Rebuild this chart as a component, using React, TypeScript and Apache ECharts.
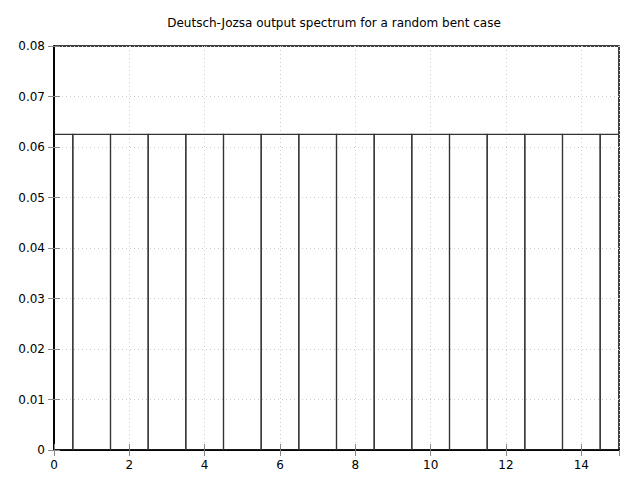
import React, { useEffect, useRef } from "react";
import * as echarts from "echarts";

const title = "Deutsch-Jozsa output spectrum for a random bent case";
const outcomes = [0, 1, 2, 3, 4, 5, 6, 7, 8, 9, 10, 11, 12, 13, 14, 15];
const probabilities = [
  0.0625, 0.0625, 0.0625, 0.0625, 0.0625, 0.0625, 0.0625, 0.0625,
  0.0625, 0.0625, 0.0625, 0.0625, 0.0625, 0.0625, 0.0625, 0.0625,
];
const barWidth = 1;

export default function App() {
  const ref = useRef<HTMLDivElement>(null);
  useEffect(() => {
    if (!ref.current) return;
    const chart = echarts.init(ref.current, null, { renderer: "svg" });
    const font = "DejaVu Sans";
    const tickStyle = { show: true, inside: true, length: 6, lineStyle: { color: "#888", width: 1 } };
    const splitStyle = { show: true, lineStyle: { color: "#ccc", type: [1, 3] as any, width: 1 } };
    chart.setOption({
      animation: false,
      backgroundColor: "#fff",
      textStyle: { fontFamily: font },
      graphic: [
        {
          type: "text",
          x: 334,
          y: 23,
          style: {
            text: title,
            fontFamily: font,
            fontSize: 12,
            fill: "#000",
            align: "center",
            verticalAlign: "middle",
          },
        },
      ],
      grid: {
        left: 54,
        right: 21,
        top: 46,
        bottom: 30,
        show: true,
        borderColor: "#000",
        borderWidth: 1.5,
        backgroundColor: "transparent",
      },
      xAxis: [
        {
          type: "value",
          min: 0,
          max: 15,
          interval: 2,
          axisLine: { show: true, lineStyle: { color: "#000", width: 1.5 } },
          axisTick: tickStyle,
          splitLine: splitStyle,
          axisLabel: { color: "#000", fontSize: 12, margin: 9, showMaxLabel: false, fontFamily: font },
        },
        {
          type: "value",
          position: "top",
          min: 0,
          max: 15,
          interval: 2,
          axisLine: { show: true, lineStyle: { color: "#000", width: 1.5 } },
          axisTick: tickStyle,
          splitLine: { show: false },
          axisLabel: { show: false },
        },
      ],
      yAxis: [
        {
          type: "value",
          min: 0,
          max: 0.08,
          interval: 0.01,
          axisLine: { show: true, lineStyle: { color: "#000", width: 1.5 } },
          axisTick: tickStyle,
          splitLine: splitStyle,
          axisLabel: {
            color: "#000",
            fontSize: 12,
            margin: 9,
            fontFamily: font,
            formatter: (v: number) => (v === 0 ? "0" : v.toFixed(2)),
          },
        },
        {
          type: "value",
          position: "right",
          min: 0,
          max: 0.08,
          interval: 0.01,
          axisLine: { show: true, lineStyle: { color: "#000", width: 1.5 } },
          axisTick: tickStyle,
          splitLine: { show: false },
          axisLabel: { show: false },
        },
      ],
      series: [
        {
          type: "custom",
          clip: true,
          xAxisIndex: 0,
          yAxisIndex: 0,
          data: outcomes.map((x, i) => [x, probabilities[i]]),
          renderItem: (params: any, api: any) => {
            const x = api.value(0);
            const y = api.value(1);
            const p0 = api.coord([x - barWidth / 2, y]);
            const p1 = api.coord([x + barWidth / 2, 0]);
            return {
              type: "rect",
              shape: { x: p0[0], y: p0[1], width: p1[0] - p0[0], height: p1[1] - p0[1] },
              style: { fill: "none", stroke: "#333", lineWidth: 1.2 },
            };
          },
        },
      ],
    });
    return () => chart.dispose();
  }, []);
  return (
    <div
      ref={ref}
      style={{ position: "absolute", left: 0, top: 0, width: 640, height: 480 }}
    />
  );
}
